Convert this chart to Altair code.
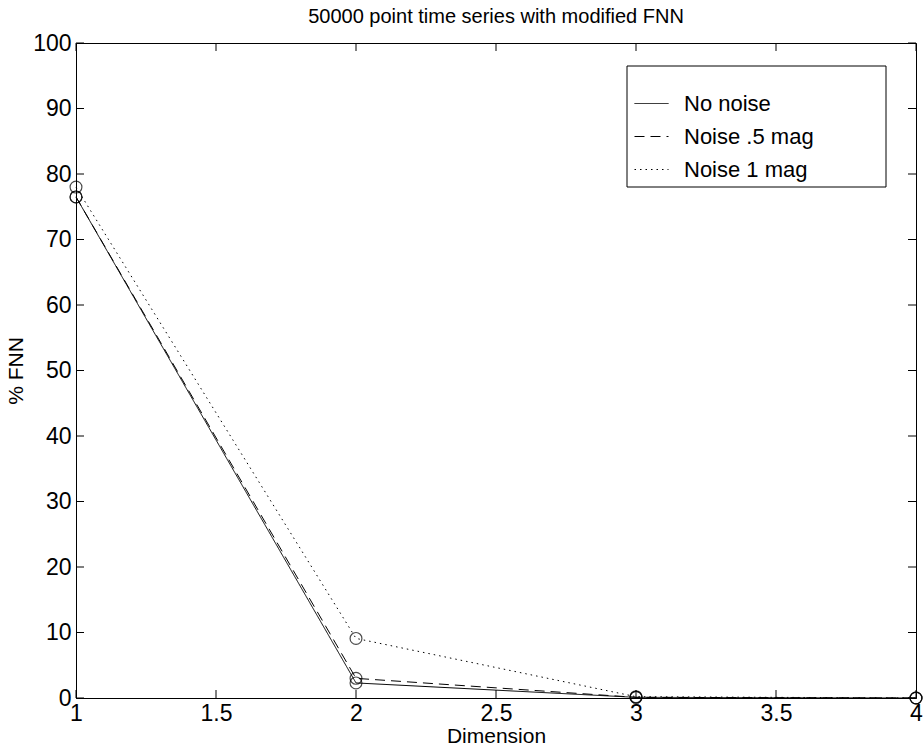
import altair as alt
import pandas as pd

dimension = [1, 2, 3, 4]
no_noise = [76.5, 2.3, 0.1, 0.0]
noise_half = [76.5, 3.0, 0.1, 0.0]
noise_one = [78.0, 9.1, 0.2, 0.0]
series_names = ["No noise", "Noise .5 mag", "Noise 1 mag"]

x_ticks = [1, 1.5, 2, 2.5, 3, 3.5, 4]
y_ticks = [0, 10, 20, 30, 40, 50, 60, 70, 80, 90, 100]

rows = []
for name, vals in zip(series_names, [no_noise, noise_half, noise_one]):
    for d, v in zip(dimension, vals):
        rows.append({"Dimension": d, "FNN": v, "series": name})
df = pd.DataFrame(rows)
xt = pd.DataFrame({"t": x_ticks})
yt = pd.DataFrame({"t": y_ticks})

W, H = 840, 655
FONT = "Liberation Sans"

xscale = alt.Scale(domain=[1, 4], nice=False, zero=False)
yscale = alt.Scale(domain=[0, 100], nice=False)

x_enc = alt.X("Dimension:Q", scale=xscale,
              axis=alt.Axis(values=x_ticks, title="Dimension", tickSize=0,
                            format="~g",
                            labelPadding=4, titlePadding=0, grid=False,
                            labelFontSize=23, titleFontSize=21, labelFlush=False,
                            domainColor="black", labelColor="black",
                            titleColor="black", titleFontWeight="normal"))
y_enc = alt.Y("FNN:Q", scale=yscale,
              axis=alt.Axis(values=y_ticks, title="% FNN", tickSize=0,
                            labelPadding=5, titlePadding=6, grid=False,
                            labelFontSize=23, titleFontSize=21, labelFlush=False,
                            domainColor="black", labelColor="black",
                            titleColor="black", titleFontWeight="normal"))

lines = alt.Chart(df).mark_line(color="black", strokeWidth=1).encode(
    x=x_enc,
    y=y_enc,
    strokeDash=alt.StrokeDash(
        "series:N",
        scale=alt.Scale(domain=series_names, range=[[1, 0], [10, 6], [1.5, 4]]),
        legend=alt.Legend(title=None, orient="none", legendX=558, legendY=43,
                          symbolType="stroke", symbolSize=1156,
                          symbolStrokeColor="black", symbolStrokeWidth=1,
                          labelFontSize=22, labelFont=FONT, labelColor="black",
                          labelOffset=15, rowPadding=4, padding=0),
    ),
    detail="series:N",
)

points = alt.Chart(df).mark_point(shape="circle", size=140, color="black",
                                  filled=False, strokeWidth=1.2).encode(
    x=alt.X("Dimension:Q", scale=xscale),
    y=alt.Y("FNN:Q", scale=yscale),
)

tick_b = alt.Chart(xt).mark_rule(color="black", strokeWidth=1).encode(
    x=alt.X("t:Q", scale=xscale), y=alt.value(H), y2=alt.value(H - 8))
tick_t = alt.Chart(xt).mark_rule(color="black", strokeWidth=1).encode(
    x=alt.X("t:Q", scale=xscale), y=alt.value(0), y2=alt.value(8))
tick_l = alt.Chart(yt).mark_rule(color="black", strokeWidth=1).encode(
    y=alt.Y("t:Q", scale=yscale), x=alt.value(0), x2=alt.value(8))
tick_r = alt.Chart(yt).mark_rule(color="black", strokeWidth=1).encode(
    y=alt.Y("t:Q", scale=yscale), x=alt.value(W), x2=alt.value(W - 8))

legend_box = alt.Chart(pd.DataFrame({"a": [0]})).mark_rect(
    fill="white", stroke="black", strokeWidth=1).encode(
    x=alt.value(551), x2=alt.value(810), y=alt.value(23), y2=alt.value(144))

chart = alt.layer(tick_b, tick_t, tick_l, tick_r, lines, points, legend_box).properties(
    width=W, height=H,
    title=alt.TitleParams("50000 point time series with modified FNN",
                          fontSize=20, font=FONT, fontWeight="normal",
                          color="black", anchor="middle", offset=5),
    padding={"left": 76, "top": 43, "right": 8, "bottom": 53},
    autosize=alt.AutoSizeParams(type="none"),
).configure(font=FONT).configure_view(stroke="black", strokeWidth=1).configure_axis(
    labelFont=FONT, titleFont=FONT)

chart.save("out.html", embed_options={"renderer": "svg", "actions": False})
